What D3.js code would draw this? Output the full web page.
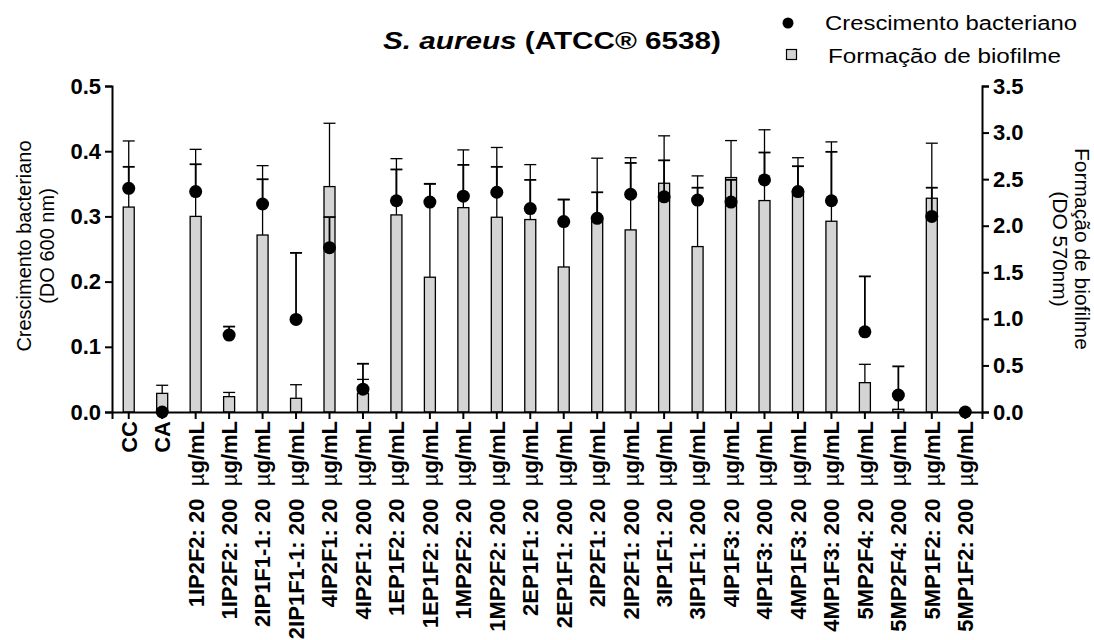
<!DOCTYPE html>
<html>
<head>
<meta charset="utf-8">
<script src="https://cdn.jsdelivr.net/npm/d3@7"></script>
<style>
body { margin: 0; background: #fff; }
svg text { font-family: "Liberation Sans", Arial, sans-serif; fill: #000; }
.axis path, .axis line { stroke: #000; stroke-width: 2; }
.axis text { font-size: 22px; font-weight: bold; }
</style>
</head>
<body>
<div id="vis_container"></div>
<script>
// Samples: two controls and the extracts at 20 and 200 ug/mL.
var categories = ["CC", "CA",
	"1IP2F2: 20", "1IP2F2: 200", "2IP1F1-1: 20", "2IP1F1-1: 200",
	"4IP2F1: 20", "4IP2F1: 200", "1EP1F2: 20", "1EP1F2: 200",
	"1MP2F2: 20", "1MP2F2: 200", "2EP1F1: 20", "2EP1F1: 200",
	"2IP2F1: 20", "2IP2F1: 200", "3IP1F1: 20", "3IP1F1: 200",
	"4IP1F3: 20", "4IP1F3: 200", "4MP1F3: 20", "4MP1F3: 200",
	"5MP2F4: 20", "5MP2F4: 200", "5MP1F2: 20", "5MP1F2: 200"];

// Bacterial growth (DO 600 nm), left axis. Mean and SD (drawn upward only).
var growth_mean = [0.343, 0.0, 0.338, 0.118, 0.319, 0.142, 0.252, 0.035, 0.324, 0.322,
	0.331, 0.337, 0.312, 0.292, 0.297, 0.334, 0.330, 0.325, 0.322, 0.356,
	0.338, 0.324, 0.123, 0.026, 0.300, 0.0];
var growth_sd = [0.033, 0, 0.042, 0.013, 0.038, 0.102, 0.047, 0.039, 0.048, 0.028,
	0.048, 0.039, 0.044, 0.034, 0.040, 0.048, 0.056, 0.019, 0.034, 0.042,
	0.039, 0.075, 0.085, 0.044, 0.044, 0];

// Biofilm formation (DO 570 nm), right axis.
var biofilm_mean = [2.20, 0.20, 2.10, 0.165, 1.90, 0.147, 2.42, 0.20, 2.116, 1.447,
	2.194, 2.091, 2.066, 1.557, 2.07, 1.955, 2.456, 1.776, 2.517, 2.27,
	2.366, 2.048, 0.315, 0.029, 2.295, 0.0];
var biofilm_sd = [0.71, 0.087, 0.72, 0.045, 0.745, 0.146, 0.68, 0.15, 0.604, 1.002,
	0.62, 0.749, 0.59, 0.723, 0.655, 0.775, 0.509, 0.759, 0.397, 0.76,
	0.364, 0.852, 0.197, 0.14, 0.591, 0];

var left_ticks = [0, 0.1, 0.2, 0.3, 0.4, 0.5];
var right_ticks = [0, 0.5, 1.0, 1.5, 2.0, 2.5, 3.0, 3.5];

var data = categories.map(function(c, i) {
	return {cat: c, g: growth_mean[i], gsd: growth_sd[i], b: biofilm_mean[i], bsd: biofilm_sd[i]};
});

var width = 1094;
var height = 640;
// plot area (note: "top" is reserved on window, so prefix these)
var plot_left = 112, plot_right = 982, plot_top = 86, plot_bottom = 412;
var bar_w = 11;
var cap_w = 12;

var x = d3.scaleBand()
	.domain(categories)
	.range([plot_left, plot_right])
	.padding(0);

var y_left = d3.scaleLinear()
	.domain([0, 0.5])
	.range([plot_bottom, plot_top]);

var y_right = d3.scaleLinear()
	.domain([0, 3.5])
	.range([plot_bottom, plot_top]);

function cx(d) { return x(d.cat) + x.bandwidth() / 2; }

var svg = d3.select("#vis_container")
	.append("svg")
	.attr("width", width)
	.attr("height", height);

// bars (biofilm)
svg.selectAll(".bar").data(data).enter().append("rect")
	.attr("class", "bar")
	.attr("x", function(d) { return cx(d) - bar_w / 2; })
	.attr("y", function(d) { return y_right(d.b); })
	.attr("width", bar_w)
	.attr("height", function(d) { return y_right(0) - y_right(d.b); })
	.style("fill", "#d4d4d4")
	.style("stroke", function(d) { return d.b > 0 ? "#000" : "none"; })
	.style("stroke-width", 1.3);

// error bars for the bars
var berr = svg.selectAll(".berr").data(data.filter(function(d) { return d.bsd > 0; })).enter().append("g");
berr.append("line")
	.attr("x1", cx).attr("x2", cx)
	.attr("y1", function(d) { return y_right(d.b); })
	.attr("y2", function(d) { return y_right(d.b + d.bsd); })
	.style("stroke", "#000").style("stroke-width", 1.3);
berr.append("line")
	.attr("x1", function(d) { return cx(d) - cap_w / 2; })
	.attr("x2", function(d) { return cx(d) + cap_w / 2; })
	.attr("y1", function(d) { return y_right(d.b + d.bsd); })
	.attr("y2", function(d) { return y_right(d.b + d.bsd); })
	.style("stroke", "#000").style("stroke-width", 1.3);

// error bars for the growth points
var gerr = svg.selectAll(".gerr").data(data.filter(function(d) { return d.gsd > 0; })).enter().append("g");
gerr.append("line")
	.attr("x1", cx).attr("x2", cx)
	.attr("y1", function(d) { return y_left(d.g); })
	.attr("y2", function(d) { return y_left(d.g + d.gsd); })
	.style("stroke", "#000").style("stroke-width", 1.8);
gerr.append("line")
	.attr("x1", function(d) { return cx(d) - cap_w / 2; })
	.attr("x2", function(d) { return cx(d) + cap_w / 2; })
	.attr("y1", function(d) { return y_left(d.g + d.gsd); })
	.attr("y2", function(d) { return y_left(d.g + d.gsd); })
	.style("stroke", "#000").style("stroke-width", 1.8);

// axes
svg.append("g")
	.attr("class", "axis")
	.attr("transform", "translate(0," + plot_bottom + ")")
	.call(d3.axisBottom(x).tickSizeOuter(0).tickSize(7).tickFormat(""));

svg.append("g")
	.attr("class", "axis")
	.attr("transform", "translate(" + plot_left + ",0)")
	.call(d3.axisLeft(y_left).tickValues(left_ticks).tickFormat(d3.format(".1f")).tickSizeOuter(0).tickSize(7).tickPadding(4));

svg.append("g")
	.attr("class", "axis")
	.attr("transform", "translate(" + plot_right + ",0)")
	.call(d3.axisRight(y_right).tickValues(right_ticks).tickFormat(d3.format(".1f")).tickSizeOuter(0).tickSize(7).tickPadding(4));

// growth points, on top
svg.selectAll(".dot").data(data).enter().append("circle")
	.attr("class", "dot")
	.attr("cx", cx)
	.attr("cy", function(d) { return y_left(d.g); })
	.attr("r", 6.5)
	.style("fill", "#000");

// category labels, rotated
var labels = svg.selectAll(".xlab").data(categories).enter().append("text")
	.attr("class", "xlab")
	.attr("transform", function(d) { return "translate(" + (x(d) + x.bandwidth() / 2) + "," + (plot_bottom + 9) + ") rotate(-90)"; })
	.attr("dy", "0.36em")
	.style("text-anchor", "end")
	.style("font-size", "22px")
	.style("font-weight", "bold");
labels.append("tspan").text(function(d) { return d.indexOf(":") > 0 ? d + "\u00a0\u00a0" : d; });
labels.filter(function(d) { return d.indexOf(":") > 0; }).append("tspan")
	.style("font-weight", "normal").text("\u00b5");
labels.filter(function(d) { return d.indexOf(":") > 0; }).append("tspan").text("g/mL");

// axis titles
var ltitle = svg.append("text")
	.attr("transform", "translate(31,246) rotate(-90)")
	.style("text-anchor", "middle")
	.style("font-size", "20px");
ltitle.append("tspan").attr("x", 0).attr("dy", 0).text("Crescimento bacteriano");
ltitle.append("tspan").attr("x", 0).attr("dy", 23).text("(DO 600 nm)");

var rtitle = svg.append("text")
	.attr("transform", "translate(1075,249) rotate(90)")
	.style("text-anchor", "middle")
	.style("font-size", "21px");
rtitle.append("tspan").attr("x", 0).attr("dy", 0).text("Formação de biofilme");
rtitle.append("tspan").attr("x", 0).attr("dy", 22).text("(DO 570nm)");

// chart title
var title = svg.append("text")
	.attr("x", 552)
	.attr("y", 49)
	.attr("textLength", 338)
	.attr("lengthAdjust", "spacingAndGlyphs")
	.style("text-anchor", "middle")
	.style("font-size", "24px")
	.style("font-weight", "bold");
title.append("tspan").style("font-style", "italic").text("S. aureus");
title.append("tspan").text(" (ATCC® 6538)");

// legend
svg.append("circle").attr("cx", 788).attr("cy", 23).attr("r", 5.5).style("fill", "#000");
svg.append("text").attr("x", 825).attr("y", 30)
	.attr("textLength", 252).attr("lengthAdjust", "spacingAndGlyphs")
	.style("font-size", "20px").text("Crescimento bacteriano");
svg.append("rect").attr("x", 786.5).attr("y", 49.5).attr("width", 10).attr("height", 10)
	.style("fill", "#d4d4d4").style("stroke", "#000").style("stroke-width", 1.2);
svg.append("text").attr("x", 828).attr("y", 63)
	.attr("textLength", 233).attr("lengthAdjust", "spacingAndGlyphs")
	.style("font-size", "20px").text("Formação de biofilme");
</script>
</body>
</html>
